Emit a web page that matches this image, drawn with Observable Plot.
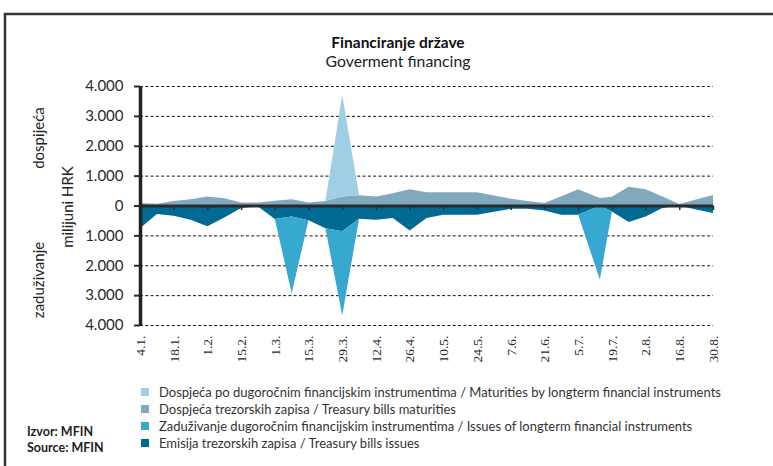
<!DOCTYPE html>
<html><head><meta charset="utf-8">
<script src="https://cdn.jsdelivr.net/npm/d3@7"></script>
<script src="https://cdn.jsdelivr.net/npm/@observablehq/plot@0.6"></script>
<style>
body{margin:0;background:#fff;}
#chart{position:relative;width:773px;height:466px;overflow:hidden;}
</style></head><body><div id="chart"></div>
<script>
// ---- data ----
const dates = ["2011-01-04","2011-01-11","2011-01-18","2011-01-25","2011-02-01","2011-02-08","2011-02-15","2011-02-22",
  "2011-03-01","2011-03-08","2011-03-15","2011-03-22","2011-03-29","2011-04-05","2011-04-12","2011-04-19","2011-04-26",
  "2011-05-03","2011-05-10","2011-05-17","2011-05-24","2011-05-31","2011-06-07","2011-06-14","2011-06-21","2011-06-28",
  "2011-07-05","2011-07-14","2011-07-19","2011-07-26","2011-08-02","2011-08-09","2011-08-16","2011-08-23","2011-08-30"];
const seriesNames = [
  "Dospjeća po dugoročnim financijskim instrumentima / Maturities by longterm financial instruments",
  "Dospjeća trezorskih zapisa / Treasury bills maturities",
  "Zaduživanje dugoročnim financijskim instrumentima / Issues of longterm financial instruments",
  "Emisija trezorskih zapisa / Treasury bills issues"
];
const seriesColors = ["#a0cee4", "#80a9bd", "#37a8cf", "#006a93"];
const bondMaturities = [0,0,0,0,0,0,0,0,0,0,0,0,3400,0,0,0,0,0,0,0,0,0,0,0,0,0,0,0,0,0,0,0,0,0,0];
const billMaturities = [80,55,150,210,300,245,100,100,160,210,100,150,300,340,300,410,545,440,440,440,440,335,230,150,80,310,540,250,290,630,540,300,50,200,350];
const bondIssues = [0,0,0,0,0,0,0,0,0,-2570,0,0,-2820,0,0,0,0,0,0,0,0,0,0,0,0,0,0,-2480,0,0,0,0,0,0,0];
const billIssues = [-760,-285,-340,-475,-695,-400,-85,-30,-450,-370,-490,-760,-860,-440,-475,-420,-840,-420,-310,-310,-310,-210,-110,-110,-165,-310,-310,0,-200,-550,-365,-85,-10,-130,-250];
const tickLabels = ["4.1.","18.1.","1.2.","15.2.","1.3.","15.3.","29.3.","12.4.","26.4.","10.5.","24.5.","7.6.","21.6.","5.7.","19.7.","2.8.","16.8.","30.8."];
const yTicks = [-4000,-3000,-2000,-1000,0,1000,2000,3000,4000];

// ---- build stacked table (maturities stack upward, issues stack downward) ----
const parse = d3.utcParse("%Y-%m-%d");
const rows = [];
dates.forEach((d, i) => {
  const date = parse(d);
  const g = billMaturities[i], l = bondMaturities[i], k = billIssues[i], b = bondIssues[i];
  rows.push({date, y1: 0, y2: g, series: seriesNames[1]});
  rows.push({date, y1: g, y2: g + l, series: seriesNames[0]});
  rows.push({date, y1: 0, y2: k, series: seriesNames[3]});
  rows.push({date, y1: k, y2: k + b, series: seriesNames[2]});
});
const tickDates = tickLabels.map(l => { const [d, m] = l.split("."); return new Date(Date.UTC(2011, +m - 1, +d)); });
const labelOf = new Map(tickDates.map((d, i) => [+d, tickLabels[i]]));
const fmtY = d => d3.format(",")(Math.abs(d)).replace(/,/g, ".");

const plot = Plot.plot({
  width: 773, height: 466,
  marginTop: 86, marginBottom: 141, marginLeft: 140, marginRight: 60,
  x: {type: "utc", domain: [tickDates[0], tickDates[tickDates.length - 1]]},
  y: {domain: [-4000, 4000]},
  color: {domain: seriesNames, range: seriesColors},
  style: {fontFamily: "Lato, sans-serif", background: "transparent"},
  marks: [
    Plot.ruleY(yTicks.filter(d => d !== 0), {stroke: "#111", strokeDasharray: "3,2.3", strokeWidth: 1}),
    Plot.areaY(rows, {x: "date", y1: "y1", y2: "y2", z: "series", fill: "series"}),
    Plot.ruleY([0], {stroke: "#2b2b2b", strokeWidth: 3}),
    Plot.ruleX(tickDates.slice(1), {y1: 0, y2: -150, stroke: "#2b2b2b", strokeWidth: 1.5}),
    Plot.ruleX([tickDates[0]], {stroke: "#222", strokeWidth: 3.5}),
    Plot.axisY({ticks: yTicks, tickFormat: fmtY, tickSize: 6, tickPadding: 11, fontSize: 15, color: "#2a2a2a", strokeWidth: 2, label: null}),
    Plot.axisX({ticks: tickDates, tickFormat: d => labelOf.get(+d), tickSize: 0, tickRotate: -90, tickPadding: 10,
      fontSize: 13.5, fontFamily: "Liberation Serif, serif", color: "#2a2a2a", label: null})
  ]
});

const svg = d3.select(plot);
svg.insert("rect", ":first-child").attr("x", 5).attr("y", 14).attr("width", 820).attr("height", 520)
  .attr("fill", "#fff").attr("stroke", "#333").attr("stroke-width", 2.5);

const txt = (x, y, s, opts = {}) => svg.append("text").attr("x", x).attr("y", y).text(s)
  .attr("font-family", opts.family || "Lato, sans-serif").attr("font-size", opts.size || 15)
  .attr("font-weight", opts.weight || "normal").attr("fill", opts.fill || "#222")
  .attr("text-anchor", opts.anchor || "start")
  .attr("transform", opts.rotate ? `rotate(-90 ${x} ${y})` : null)
  .attr("dominant-baseline", opts.baseline || null);

txt(398, 48, "Financiranje države", {size: 15.5, weight: "bold", anchor: "middle", fill: "#111"});
txt(398, 67, "Goverment financing", {size: 15.8, anchor: "middle", fill: "#222"});
txt(38, 138, "dospijeća", {rotate: true, anchor: "middle", baseline: "central", size: 15});
txt(38, 280, "zaduživanje", {rotate: true, anchor: "middle", baseline: "central", size: 15});
txt(67, 207, "milijuni HRK", {rotate: true, anchor: "middle", baseline: "central", size: 15});

// legend
const legendY = [392, 409, 426, 443];
seriesNames.forEach((name, i) => {
  svg.append("rect").attr("x", 141).attr("y", legendY[i] - 4).attr("width", 8).attr("height", 8).attr("fill", seriesColors[i]);
  txt(159, legendY[i] + 4.5, name, {size: 13, fill: "#333"});
});
txt(27, 436, "Izvor: MFIN", {size: 12.5, weight: "bold", fill: "#222"});
txt(27, 452, "Source: MFIN", {size: 12.5, weight: "bold", fill: "#222"});

document.getElementById("chart").appendChild(plot);
</script>
</body></html>
